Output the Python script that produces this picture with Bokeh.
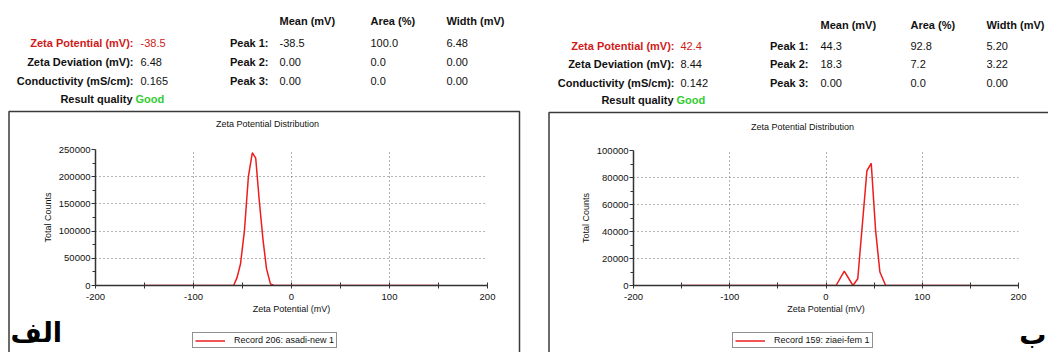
from bokeh.plotting import figure
from bokeh.models import (Legend, LegendItem, FixedTicker, NumeralTickFormatter,
                          Range1d, GridBox)
from bokeh.embed import file_html
from bokeh.resources import INLINE
from bokeh.core.properties import value

# ---------------- data ----------------
zeta_a = [-150, -59, -55.5, -52, -48, -44, -40, -36.5, -33, -29, -25.5, -21.5, -18, 150]
counts_a = [0, 0, 15000, 40000, 101000, 200000, 244000, 234000, 158000, 83000, 31000, 3000, 0, 0]

zeta_b = [-150, 10.5, 19, 28, 33, 42.5, 47, 51.5, 56, 62, 150]
counts_b = [0, 0, 10600, 0, 5000, 85000, 90500, 41000, 10000, 0, 0]

x_ticks = [-200, -100, 0, 100, 200]
x_minor = [-150, -50, 50, 150]
x_grid = [-100, 0, 100, 200]
y_ticks_a = [0, 50000, 100000, 150000, 200000, 250000]
y_minor_a = [25000, 75000, 125000, 175000, 225000]
y_ticks_b = [0, 20000, 40000, 60000, 80000, 100000]
y_minor_b = [10000, 30000, 50000, 70000, 90000]

row_labels = ["Zeta Potential (mV):", "Zeta Deviation (mV):", "Conductivity (mS/cm):"]
values_a = ["-38.5", "6.48", "0.165"]
values_b = ["42.4", "8.44", "0.142"]
col_headers = ["Mean (mV)", "Area (%)", "Width (mV)"]
peak_labels = ["Peak 1:", "Peak 2:", "Peak 3:"]
peaks_a = [["-38.5", "100.0", "6.48"], ["0.00", "0.0", "0.00"], ["0.00", "0.0", "0.00"]]
peaks_b = [["44.3", "92.8", "5.20"], ["18.3", "7.2", "3.22"], ["0.00", "0.0", "0.00"]]
quality_label = "Result quality"
quality_value = "Good"
chart_title = "Zeta Potential Distribution"
x_label = "Zeta Potential (mV)"
y_label = "Total Counts"
legend_a = "Record 206: asadi-new 1"
legend_b = "Record 159: ziaei-fem 1"
panel_a = "الف"
panel_b = "ب"

RED = "#d01a1a"
LINE_RED = "#ee1c1c"
GREEN = "#33cc33"
INK = "#111111"
FONT = "Liberation Sans"
H = 352


def txt(p, xs, ys, texts, align="left", bold=False, color=INK, size="11px",
        font=FONT, baseline="middle"):
    p.text(x=xs, y=ys, text=texts, text_align=align, text_baseline=baseline,
           text_font=value(font), text_font_size=value(size), text_color=color,
           text_font_style="bold" if bold else "normal")


def back_panel(w, values, peaks, legend_text, tag, hdr, title_xy, box, leg_xy, tag_spec):
    """Text block, outer frame, legend and tag of one panel (pixel layout)."""
    p = figure(width=w, height=H, output_backend="svg", toolbar_location=None,
               x_range=Range1d(0, w), y_range=Range1d(H, 0),
               x_axis_location=None, y_axis_location=None, min_border=0,
               frame_align=False)
    p.outline_line_color = None
    p.grid.grid_line_color = None
    p.background_fill_color = "white"
    p.border_fill_color = "white"

    hx_lab, hx_val, hx_peak, hx_cols, hy = hdr
    txt(p, hx_cols, [hy[0]] * 3, col_headers, bold=True)
    txt(p, [hx_lab], [hy[1]], row_labels[:1], align="right", bold=True, color=RED)
    txt(p, [hx_lab] * 2, hy[2:4], row_labels[1:], align="right", bold=True)
    txt(p, [hx_val], [hy[1]], values[:1], color=RED)
    txt(p, [hx_val] * 2, hy[2:4], values[1:])
    txt(p, [hx_peak] * 3, hy[1:4], peak_labels, align="right", bold=True)
    for j in range(3):
        txt(p, [hx_cols[j]] * 3, hy[1:4], [peaks[i][j] for i in range(3)])
    txt(p, [hx_lab - 1], [hy[4]], [quality_label], align="right", bold=True)
    txt(p, [hx_lab + 2], [hy[4]], [quality_value], bold=True, color=GREEN)

    txt(p, [title_xy[0]], [title_xy[1]], [chart_title], align="center", size="9px")

    p.quad(left=[box[0]], right=[box[1]], top=[box[2]], bottom=[box[3]],
           fill_color=None, line_color="#3a3a3a", line_width=1.5)

    txt(p, [tag_spec[0]], [tag_spec[1]], [tag], align=tag_spec[2], bold=True,
        size="27px", font="DejaVu Sans", color="#000000")

    # legend swatch: a line renderer kept outside the visible area
    sample = p.line(x=[-60, -50], y=[-60, -60], line_color=LINE_RED, line_width=1.5)
    legend = Legend(items=[LegendItem(label=legend_text, renderers=[sample])],
                    location=leg_xy, label_text_font=FONT, label_text_font_size="9px",
                    label_text_color=INK, glyph_width=30, glyph_height=9,
                    label_height=9, label_standoff=9, padding=2, margin=0, spacing=0,
                    border_line_color="#222222", border_line_width=1.5,
                    background_fill_color="white", background_fill_alpha=1)
    p.add_layout(legend)
    return p


def chart(w, zeta, counts, yticks, yminor, ymax, bl, br, bt, bb):
    p = figure(width=w, height=H, output_backend="svg", toolbar_location=None,
               x_range=Range1d(-200, 200), y_range=Range1d(0, ymax),
               min_border_left=bl, min_border_right=br, min_border_top=bt,
               min_border_bottom=bb, frame_align=False)
    p.outline_line_color = None
    p.background_fill_color = None
    p.border_fill_color = None

    p.line(zeta, counts, line_color=LINE_RED, line_width=1.5)

    for ax in (p.xaxis[0], p.yaxis[0]):
        ax.axis_line_color = "#333333"
        ax.axis_line_width = 1.5
        ax.major_tick_line_color = "#333333"
        ax.minor_tick_line_color = "#333333"
        ax.major_label_text_font = FONT
        ax.major_label_text_font_size = "9.5px"
        ax.major_label_text_color = INK
        ax.axis_label_text_font = FONT
        ax.axis_label_text_font_size = "9px"
        ax.axis_label_text_font_style = "normal"
        ax.axis_label_text_color = INK
        ax.formatter = NumeralTickFormatter(format="0")
    xa = p.xaxis[0]
    xa.ticker = FixedTicker(ticks=x_ticks, minor_ticks=x_minor)
    xa.major_tick_in = 3
    xa.major_tick_out = 3
    xa.minor_tick_in = 3
    xa.minor_tick_out = 3
    xa.major_label_standoff = 5
    xa.axis_label = x_label
    xa.axis_label_standoff = 1
    ya = p.yaxis[0]
    ya.ticker = FixedTicker(ticks=yticks, minor_ticks=yminor)
    ya.major_tick_in = 0
    ya.major_tick_out = 4
    ya.minor_tick_in = 0
    ya.minor_tick_out = 3
    ya.major_label_standoff = 1
    ya.axis_label = y_label
    ya.axis_label_standoff = 3

    p.xgrid.ticker = FixedTicker(ticks=x_grid)
    p.ygrid.ticker = FixedTicker(ticks=yticks[1:])
    for g in (p.xgrid[0], p.ygrid[0]):
        g.grid_line_color = "#666666"
        g.grid_line_dash = "1 3"
        g.grid_line_width = 1
    return p


WA, WB = 530, 518
back_a = back_panel(WA, values_a, peaks_a, legend_a, panel_a,
                    (133, 140, 268, [279, 370, 446], [20.7, 42.3, 61, 80, 98]),
                    (267, 123), (8.5, 519, 111, 400), (192, 4), (10, 332, "left"))
front_a = chart(WA, zeta_a, counts_a, y_ticks_a, y_minor_a, 250000, 95, 43, 149, 67)

back_b = back_panel(WB, values_b, peaks_b, legend_b, panel_b,
                    (144, 150, 278, [290, 380, 456], [24, 45, 63, 82, 99]),
                    (272, 126), (18.5, 560, 112, 400), (202, 4), (516, 334, "right"))
front_b = chart(WB, zeta_b, counts_b, y_ticks_b, y_minor_b, 100000, 103, 30, 150, 67)

layout = GridBox(children=[(back_a, 0, 0), (front_a, 0, 0),
                           (back_b, 0, 1), (front_b, 0, 1)], spacing=0)
open("out.html", "w").write(file_html(layout, INLINE))
